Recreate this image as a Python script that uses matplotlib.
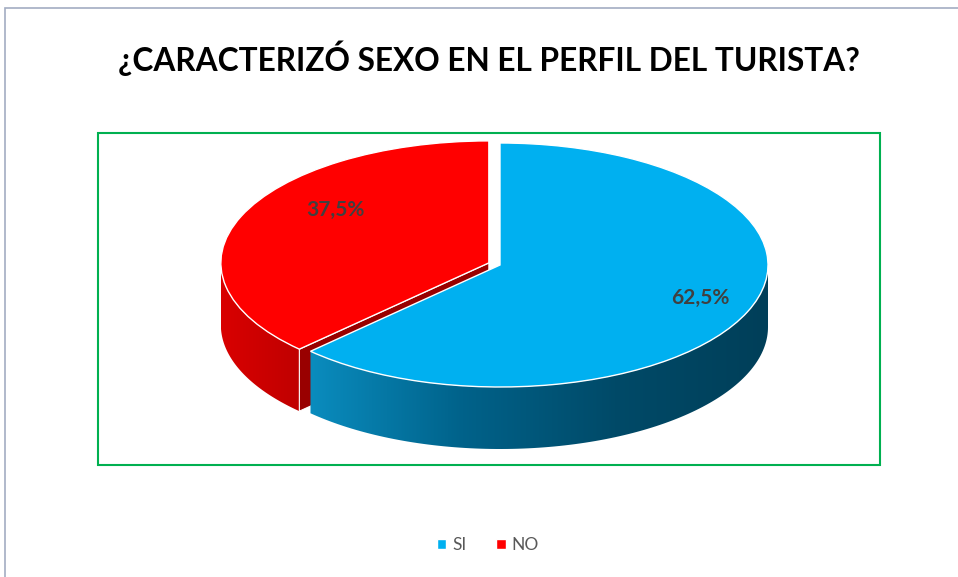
import numpy as np
import matplotlib.pyplot as plt
from matplotlib.patches import Polygon, Rectangle
from matplotlib.colors import LinearSegmentedColormap

# data
categories = ['SI', 'NO']
values = [62.5, 37.5]
labels = ['62,5%', '37,5%']
top_colors = ['#00b0f0', '#ff0000']
title = '¿CARACTERIZÓ SEXO EN EL PERFIL DEL TURISTA?'

W, H = 958, 577
cx, cy = 500, 265      # pie centre in pixels
rx, ry = 268, 122      # ellipse radii in pixels
depth = 62 / ry        # wall height in data units
explode = [0, 0.045]

plt.rcParams['font.family'] = ['Lato', 'DejaVu Sans']

fig = plt.figure(figsize=(W / 100, H / 100), dpi=100)
ax = fig.add_axes([0, 0, 1, 1])


def wall_polygon(t1, t2, ox, oy):
    """Outer wall between angles t1..t2 (degrees) of a unit pie at (ox, oy)."""
    t = np.radians(np.linspace(t1, t2, 120))
    top = np.column_stack([ox + np.cos(t), oy + np.sin(t)])
    bot = np.column_stack([ox + np.cos(t[::-1]), oy + np.sin(t[::-1]) - depth])
    return np.vstack([top, bot])


def radial_face(t, ox, oy):
    a = np.radians(t)
    return np.array([[ox, oy], [ox + np.cos(a), oy + np.sin(a)],
                     [ox + np.cos(a), oy + np.sin(a) - depth], [ox, oy - depth]])


def gradient_fill(poly, stops, z):
    patch = Polygon(poly, closed=True, facecolor='none', edgecolor='none', zorder=z)
    ax.add_patch(patch)
    cmap = LinearSegmentedColormap.from_list('g', stops)
    x0, x1 = poly[:, 0].min(), poly[:, 0].max()
    y0, y1 = poly[:, 1].min(), poly[:, 1].max()
    im = ax.imshow(np.linspace(0, 1, 256)[None, :], cmap=cmap, aspect='auto',
                   extent=[x0, x1, y0, y1], origin='lower', interpolation='bilinear',
                   zorder=z)
    im.set_clip_path(patch)


# wedge angles (clockwise from 12 o'clock)
fracs = np.array(values) / sum(values)
ends = 90 - 360 * np.cumsum(fracs)
starts = np.concatenate([[90], ends[:-1]])
mids = (starts + ends) / 2
offs = [(e * np.cos(np.radians(m)), e * np.sin(np.radians(m))) for e, m in zip(explode, mids)]

# NO slice walls (behind)
ox, oy = offs[1]
t_lo, t_hi = ends[1] + 360, starts[1] + 360   # 90..225
gradient_fill(wall_polygon(max(t_lo, 180), t_hi, ox, oy), ['#d90000', '#c00000'], 1)
ax.add_patch(Polygon(radial_face(t_hi, ox, oy), closed=True, facecolor='#990000',
                     edgecolor='white', linewidth=0.8, zorder=2))

# SI slice: face at 12 o'clock seen through the gap, then the front wall
ox, oy = offs[0]
ax.add_patch(Polygon(radial_face(starts[0], ox, oy), closed=True, facecolor='#00628a',
                     edgecolor='none', zorder=2.5))
gradient_fill(wall_polygon(ends[0] + 360, 360, ox, oy),
              ['#0a8cbe', '#00628a', '#004a68', '#003f59'], 3)

# top surfaces
wedges, _ = ax.pie(values, colors=top_colors, startangle=90, counterclock=False,
                   explode=explode, radius=1,
                   wedgeprops=dict(edgecolor='white', linewidth=1.0, zorder=4))

# data labels
label_r = [0.81, 0.62]
label_lift = [0.04, 0.2]
for i, lab in enumerate(labels):
    a = np.radians(mids[i])
    ax.text(offs[i][0] + label_r[i] * np.cos(a),
            offs[i][1] + label_r[i] * np.sin(a) + label_lift[i],
            lab, ha='center', va='center', fontsize=15, fontweight='bold',
            color='#404040', zorder=5)

ax.set_aspect('auto')
ax.set_xlim(-cx / rx, (W - cx) / rx)
ax.set_ylim(-(H - cy) / ry, cy / ry)
ax.axis('off')

# plot area border and chart border
fig.patches.append(Rectangle((98 / W, 1 - 465 / H), (880 - 98) / W, (465 - 133) / H,
                             transform=fig.transFigure, fill=False,
                             edgecolor='#00b050', linewidth=1.5))
fig.patches.append(Rectangle((5 / W, -0.1), 1.2, 1 - 8 / H + 0.1,
                             transform=fig.transFigure, fill=False,
                             edgecolor='#a3adc2', linewidth=1.2))

fig.text(489 / W, 1 - 58 / H, title, ha='center', va='center',
         fontsize=22.8, fontweight='bold', color='black')

fig.legend(wedges, categories, loc='center', bbox_to_anchor=(488 / W, 1 - 545 / H),
           ncol=2, frameon=False, fontsize=12.5, handlelength=0.55, handleheight=0.55,
           handletextpad=0.35, columnspacing=1.7, labelcolor='#595959')

fig.savefig('out.png', dpi=100)
